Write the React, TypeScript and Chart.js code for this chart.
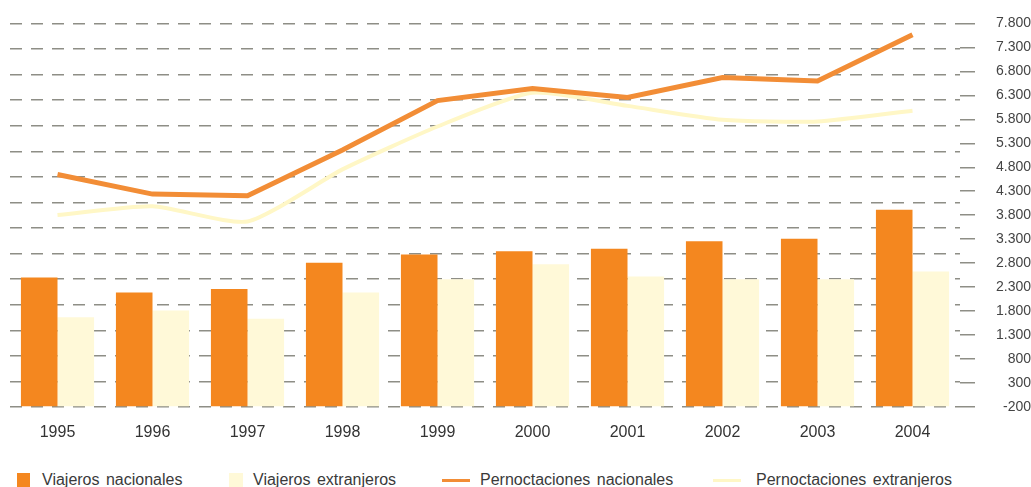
import React, { useEffect, useRef } from "react";
import { Chart, registerables } from "chart.js";

Chart.register(...registerables);

const categories = ["1995", "1996", "1997", "1998", "1999", "2000", "2001", "2002", "2003", "2004"];
const viajerosNacionales = [2500, 2190, 2260, 2810, 2980, 3050, 3100, 3255, 3310, 3915];
const viajerosExtranjeros = [1670, 1810, 1640, 2190, 2465, 2775, 2520, 2465, 2465, 2625];
const pernoctacionesNacionales = [4650, 4240, 4205, 5160, 6190, 6440, 6255, 6670, 6600, 7565];
const pernoctacionesExtranjeros = [3805, 3985, 3670, 4755, 5650, 6355, 6080, 5790, 5755, 5980];
const axisMin = -200;
const axisMax = 7800;
const axisStep = 500;
const gridMax = 7300;
const seriesNames = ["Viajeros nacionales", "Viajeros extranjeros", "Pernoctaciones nacionales", "Pernoctaciones extranjeros"];

const ORANGE_BAR = "#F4871F";
const CREAM_BAR = "#FFF9D8";
const ORANGE_LINE = "#F28D36";
const CREAM_LINE = "#FFF7C6";
const GRID = "#8e8e86";

const fmt = (v: number) => {
  const s = Math.abs(v).toString();
  const withDots = s.replace(/\B(?=(\d{3})+(?!\d))/g, ".");
  return (v < 0 ? "-" : "") + withDots;
};

export default function App() {
  const ref = useRef<HTMLCanvasElement | null>(null);

  useEffect(() => {
    if (!ref.current) return;
    const chart = new Chart(ref.current, {
      type: "bar",
      data: {
        labels: categories,
        datasets: [
          {
            type: "line",
            label: seriesNames[2],
            data: pernoctacionesNacionales,
            borderColor: ORANGE_LINE,
            backgroundColor: ORANGE_LINE,
            borderWidth: 5,
            pointRadius: 0,
            tension: 0,
            yAxisID: "y2",
            order: 0,
          } as any,
          {
            type: "line",
            label: seriesNames[3],
            data: pernoctacionesExtranjeros,
            borderColor: CREAM_LINE,
            backgroundColor: CREAM_LINE,
            borderWidth: 4,
            pointRadius: 0,
            tension: 0.2,
            yAxisID: "y2",
            order: 1,
          } as any,
          {
            type: "bar",
            label: seriesNames[0],
            data: viajerosNacionales,
            backgroundColor: ORANGE_BAR,
            base: axisMin,
            categoryPercentage: 0.77,
            barPercentage: 1,
            yAxisID: "y2",
            order: 2,
          } as any,
          {
            type: "bar",
            label: seriesNames[1],
            data: viajerosExtranjeros,
            backgroundColor: CREAM_BAR,
            base: axisMin,
            categoryPercentage: 0.77,
            barPercentage: 1,
            yAxisID: "y2",
            order: 3,
          } as any,
        ],
      },
      options: {
        responsive: false,
        animation: false,
        layout: { padding: { left: 10, top: 19, right: 0, bottom: 3 } },
        plugins: { legend: { display: false }, tooltip: { enabled: false } },
        scales: {
          x: {
            grid: { display: false, drawTicks: false },
            border: { display: false },
            ticks: {
              padding: 16,
              color: "#333",
              font: { family: "Arial, 'Liberation Sans', sans-serif", size: 16 },
            },
            afterFit: (s: any) => {
              s.height = 50;
            },
          },
          y: {
            position: "left",
            min: axisMin,
            max: gridMax,
            ticks: { display: false, stepSize: axisStep },
            grid: { color: GRID, lineWidth: 1.5, drawTicks: false },
            border: { display: false, dash: [12, 9] },
            afterFit: (s: any) => {
              s.width = 0;
            },
          },
          y2: {
            position: "right",
            min: axisMin,
            max: axisMax,
            ticks: {
              stepSize: axisStep,
              padding: 15,
              crossAlign: "far",
              color: "#444",
              font: { family: "Arial, 'Liberation Sans', sans-serif", size: 14 },
              callback: (v: any) => fmt(Number(v)),
            },
            grid: { drawOnChartArea: false, drawTicks: true, tickLength: 15, color: GRID, lineWidth: 1.5 },
            border: { display: false },
            afterFit: (s: any) => {
              s.width = 71;
            },
          },
        },
      } as any,
    });
    return () => chart.destroy();
  }, []);

  const legendFont: React.CSSProperties = {
    position: "absolute",
    top: 471,
    fontFamily: "Arial, 'Liberation Sans', sans-serif",
    fontSize: 16,
    lineHeight: "18px",
    color: "#3a3a3a",
    wordSpacing: 2,
    whiteSpace: "nowrap",
  };

  return (
    <div style={{ position: "absolute", left: 0, top: 0, width: 1031, height: 487, background: "#fff", overflow: "hidden" }}>
      <canvas ref={ref} width={1031} height={460} style={{ display: "block" }} />
      <div style={{ position: "absolute", left: 17, top: 473, width: 13, height: 14, background: ORANGE_BAR }} />
      <div style={{ ...legendFont, left: 42 }}>{seriesNames[0]}</div>
      <div style={{ position: "absolute", left: 229, top: 473, width: 14, height: 14, background: CREAM_BAR }} />
      <div style={{ ...legendFont, left: 253 }}>{seriesNames[1]}</div>
      <div style={{ position: "absolute", left: 442, top: 479, width: 28, height: 3, background: ORANGE_LINE }} />
      <div style={{ ...legendFont, left: 480 }}>{seriesNames[2]}</div>
      <div style={{ position: "absolute", left: 713, top: 479, width: 28, height: 3, background: CREAM_LINE }} />
      <div style={{ ...legendFont, left: 756 }}>{seriesNames[3]}</div>
    </div>
  );
}
